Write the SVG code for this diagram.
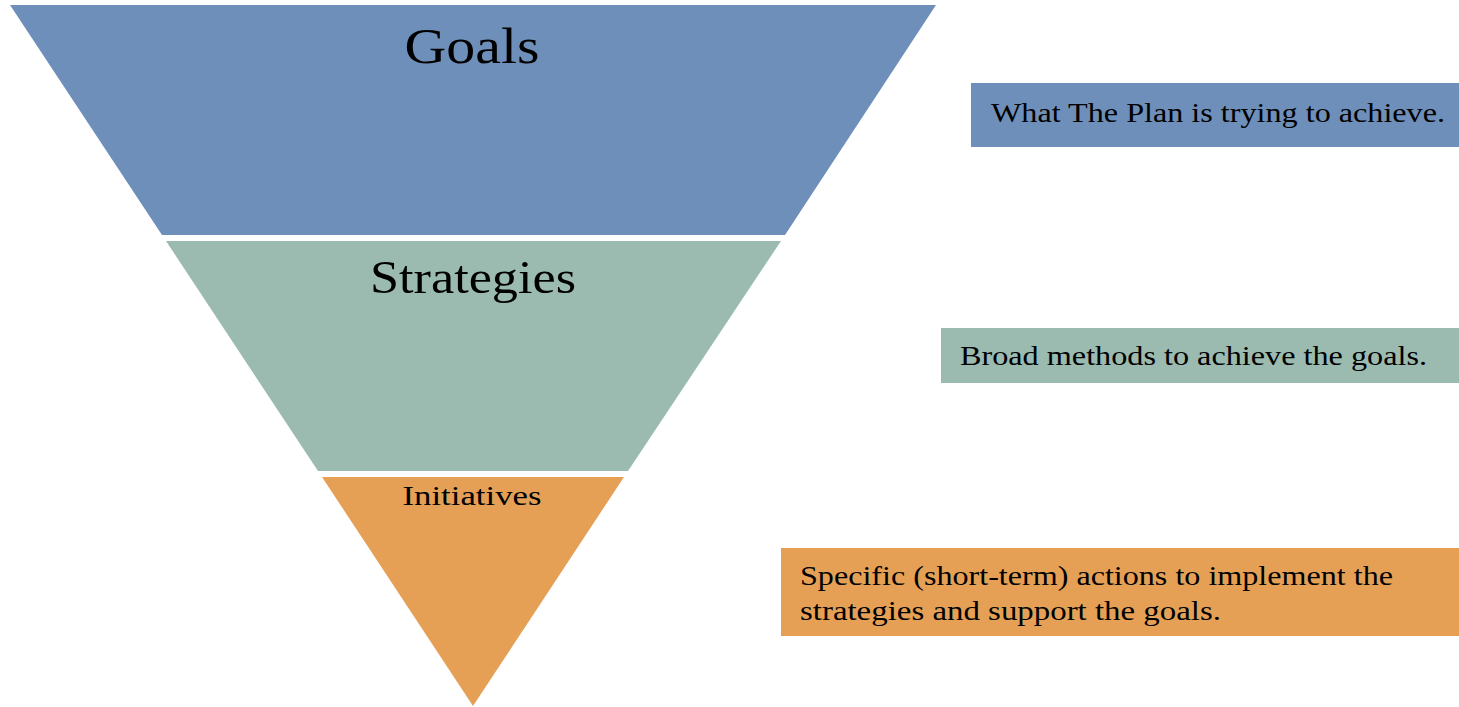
<svg xmlns="http://www.w3.org/2000/svg" width="1459" height="707" viewBox="0 0 1459 707">
<style>
.t{font-family:"Liberation Serif","DejaVu Serif",serif;fill:#000}
.d{font-size:28px}
.blue{fill:#6E8FB9}
.green{fill:#9BBBB0}
.orange{fill:#E5A056}
</style>
<rect width="1459" height="707" fill="#fff"/>
<g id="goals">
<polygon class="blue" points="10,5 936,5 785,235 162,235"/>
<text class="t" x="472" y="63" font-size="51" text-anchor="middle" textLength="135" lengthAdjust="spacingAndGlyphs">Goals</text>
</g>
<g id="strategies">
<polygon class="green" points="166,241 781,241 628,471 318,471"/>
<text class="t" x="473" y="293" font-size="47" text-anchor="middle" textLength="206" lengthAdjust="spacingAndGlyphs">Strategies</text>
</g>
<g id="initiatives">
<polygon class="orange" points="322,477 624,477 473,706"/>
<text class="t" x="472" y="505" font-size="27" text-anchor="middle" textLength="139" lengthAdjust="spacingAndGlyphs">Initiatives</text>
</g>
<g id="goals-desc">
<rect class="blue" x="971" y="83" width="488" height="64"/>
<text class="t d" x="991" y="122" textLength="454" lengthAdjust="spacingAndGlyphs">What The Plan is trying to achieve.</text>
</g>
<g id="strategies-desc">
<rect class="green" x="941" y="328" width="518" height="55"/>
<text class="t d" x="960" y="365" textLength="467" lengthAdjust="spacingAndGlyphs">Broad methods to achieve the goals.</text>
</g>
<g id="initiatives-desc">
<rect class="orange" x="781" y="548" width="678" height="88"/>
<text class="t d" x="800" y="585" textLength="593" lengthAdjust="spacingAndGlyphs">Specific (short-term) actions to implement the</text>
<text class="t d" x="800" y="620" textLength="421" lengthAdjust="spacingAndGlyphs">strategies and support the goals.</text>
</g>
<g id="connectors"></g>
</svg>
